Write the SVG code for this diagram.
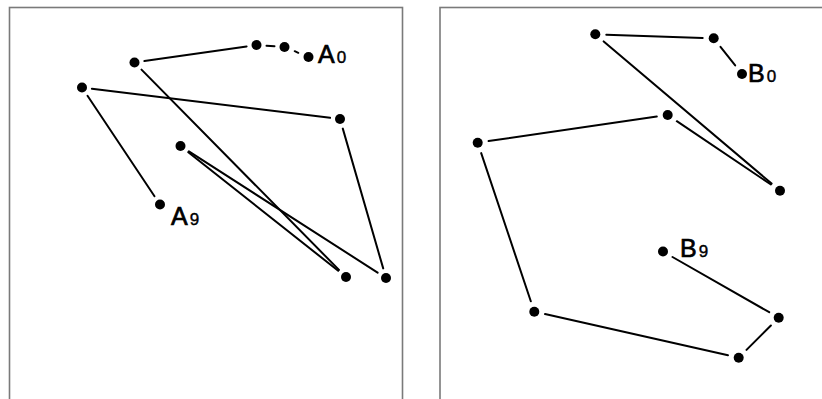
<svg xmlns="http://www.w3.org/2000/svg" width="822" height="399" viewBox="0 0 822 399">
<style>
.frame{fill:none;stroke:#7a7a7a;stroke-width:1.6}
.ln{stroke:#000;stroke-width:2;fill:none;stroke-linecap:round}
.dot{fill:#000}
.lbl{font-family:"Liberation Sans",Arial,sans-serif;font-size:25px;font-weight:normal;fill:#000;stroke:#000;stroke-width:0.7}
.sub{font-size:17px;stroke-width:0.4}
</style>
<rect width="822" height="399" fill="#fff"/>
<g id="frames">
<rect class="frame" x="9.5" y="7.5" width="393" height="400"/>
<rect class="frame" x="440" y="7.5" width="400" height="400"/>
</g>
<g id="connectors">
<line class="ln" x1="298.3" y1="52.8" x2="294.7" y2="51.2"/>
<line class="ln" x1="274.5" y1="46.3" x2="266.5" y2="45.7"/>
<line class="ln" x1="246.6" y1="46.4" x2="144.4" y2="61.1"/>
<line class="ln" x1="141.5" y1="69.6" x2="339" y2="269.9"/>
<line class="ln" x1="338.2" y1="270.8" x2="188.3" y2="152.2"/>
<line class="ln" x1="188.9" y1="151.4" x2="377.6" y2="272.6"/>
<line class="ln" x1="383.2" y1="268.4" x2="342.8" y2="128.6"/>
<line class="ln" x1="330.1" y1="117.8" x2="91.9" y2="88.7"/>
<line class="ln" x1="87.5" y1="95.8" x2="154.5" y2="196.2"/>
<line class="ln" x1="735.2" y1="65.4" x2="720.5" y2="46.9"/>
<line class="ln" x1="702.7" y1="37.9" x2="606.3" y2="34.7"/>
<line class="ln" x1="603.7" y1="41.4" x2="771.6" y2="183.6"/>
<line class="ln" x1="770.9" y1="184.5" x2="676.8" y2="121.2"/>
<line class="ln" x1="656.8" y1="116.6" x2="488.6" y2="141.1"/>
<line class="ln" x1="481.2" y1="153.1" x2="530.8" y2="301.3"/>
<line class="ln" x1="545.0" y1="314.1" x2="728.0" y2="355.3"/>
<line class="ln" x1="746.5" y1="349.9" x2="770.9" y2="325.5"/>
<line class="ln" x1="769.2" y1="312.2" x2="672.5" y2="257"/>
</g>
<g id="A0"><circle class="dot" cx="308.5" cy="57" r="5"/><text class="lbl" x="318" y="63">A<tspan class="sub" dx="2">0</tspan></text></g>
<g id="A1"><circle class="dot" cx="284.5" cy="47" r="5"/></g>
<g id="A2"><circle class="dot" cx="256.5" cy="45" r="5"/></g>
<g id="A3"><circle class="dot" cx="134.5" cy="62.5" r="5"/></g>
<g id="A4"><circle class="dot" cx="346" cy="277" r="5"/></g>
<g id="A5"><circle class="dot" cx="180.5" cy="146" r="5"/></g>
<g id="A6"><circle class="dot" cx="386" cy="278" r="5"/></g>
<g id="A7"><circle class="dot" cx="340" cy="119" r="5"/></g>
<g id="A8"><circle class="dot" cx="82" cy="87.5" r="5"/></g>
<g id="A9"><circle class="dot" cx="160" cy="204.5" r="5"/><text class="lbl" x="171" y="225">A<tspan class="sub" dx="2">9</tspan></text></g>
<g id="B0"><circle class="dot" cx="742" cy="74" r="5"/><text class="lbl" x="748" y="82">B<tspan class="sub" dx="2">0</tspan></text></g>
<g id="B1"><circle class="dot" cx="713.7" cy="38.3" r="5"/></g>
<g id="B2"><circle class="dot" cx="595.3" cy="34.3" r="5"/></g>
<g id="B3"><circle class="dot" cx="780" cy="190.7" r="5"/></g>
<g id="B4"><circle class="dot" cx="667.7" cy="115" r="5"/></g>
<g id="B5"><circle class="dot" cx="477.7" cy="142.7" r="5"/></g>
<g id="B6"><circle class="dot" cx="534.3" cy="311.7" r="5"/></g>
<g id="B7"><circle class="dot" cx="738.7" cy="357.7" r="5"/></g>
<g id="B8"><circle class="dot" cx="778.7" cy="317.7" r="5"/></g>
<g id="B9"><circle class="dot" cx="663" cy="251.5" r="5"/><text class="lbl" x="680" y="257">B<tspan class="sub" dx="2">9</tspan></text></g>
</svg>
